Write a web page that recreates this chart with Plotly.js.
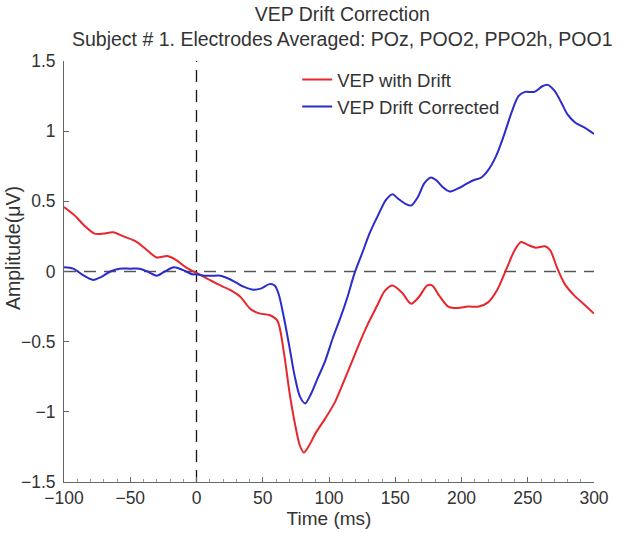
<!DOCTYPE html>
<html>
<head>
<meta charset="utf-8">
<script src="https://cdn.plot.ly/plotly-3.0.1.min.js"></script>
<style>html,body{margin:0;padding:0;background:#fff}#chart{width:627px;height:533px}</style>
</head>
<body>
<div id="chart"></div>
<script>
// Time (ms) samples and amplitudes (µV)
const timeDrift = [-100,-92,-85,-77,-70,-63,-55,-45,-37,-30,-22,-15,-8,0,8,16,25,33,41,48,55,61,66,70,74,78,81,85,90,97,104,110,117,123,129,136,142,148,155,162,168,174,178,183,190,197,205,213,220,227,234,240,245,250,256,263,267,272,278,285,292,300];
const vepDrift = [0.46,0.40,0.33,0.27,0.27,0.28,0.25,0.21,0.15,0.10,0.11,0.08,0.03,-0.01,-0.05,-0.09,-0.13,-0.18,-0.27,-0.30,-0.31,-0.35,-0.58,-0.85,-1.07,-1.24,-1.29,-1.24,-1.15,-1.05,-0.94,-0.81,-0.65,-0.51,-0.38,-0.25,-0.14,-0.10,-0.15,-0.23,-0.18,-0.10,-0.10,-0.17,-0.25,-0.26,-0.25,-0.25,-0.22,-0.13,0.02,0.15,0.21,0.19,0.17,0.18,0.15,0.03,-0.09,-0.17,-0.23,-0.30];

const timeCorr = [-100,-93,-85,-78,-72,-65,-58,-50,-43,-37,-30,-24,-17,-10,-3,0,6,12,18,24,30,36,43,49,55,59,62,66,70,74,78,82,86,91,97,103,109,114,119,125,131,137,143,148,152,158,162,167,172,177,181,186,191,197,203,209,215,220,226,232,238,243,248,255,261,265,270,275,280,286,292,300];
const vepCorr = [0.03,0.02,-0.03,-0.06,-0.04,0.00,0.02,0.02,0.02,0.00,-0.03,0.00,0.03,0.01,-0.02,-0.02,-0.03,-0.03,-0.03,-0.05,-0.08,-0.11,-0.13,-0.12,-0.09,-0.10,-0.16,-0.33,-0.53,-0.74,-0.89,-0.94,-0.88,-0.77,-0.64,-0.47,-0.32,-0.18,-0.02,0.13,0.28,0.40,0.51,0.55,0.52,0.48,0.47,0.53,0.63,0.67,0.65,0.60,0.57,0.59,0.62,0.65,0.67,0.72,0.82,0.97,1.14,1.25,1.28,1.28,1.32,1.33,1.29,1.21,1.12,1.06,1.03,0.98];

const seriesNames = ["VEP with Drift", "VEP Drift Corrected"];
const xTicks = [-100,-50,0,50,100,150,200,250,300];
const yTicks = [-1.5,-1,-0.5,0,0.5,1,1.5];
const yTickText = ['\u22121.5','\u22121','\u22120.5','0','0.5','1','1.5'];

const FONT = '"Liberation Sans", Arial, Helvetica, sans-serif';
const TXT = '#333';

const traces = [
  {x: timeDrift, y: vepDrift, name: seriesNames[0], type: 'scatter', mode: 'lines',
   line: {color: '#e8262c', width: 2, shape: 'spline', smoothing: 0.8}},
  {x: timeCorr, y: vepCorr, name: seriesNames[1], type: 'scatter', mode: 'lines',
   line: {color: '#2b2bcc', width: 2, shape: 'spline', smoothing: 0.8}}
];

const layout = {
  width: 627, height: 533,
  margin: {l: 64, r: 33, t: 61, b: 51},
  paper_bgcolor: '#fff', plot_bgcolor: '#fff',
  font: {family: FONT, size: 17, color: TXT},
  title: {
    text: 'VEP Drift Correction<br>Subject # 1. Electrodes Averaged: POz, POO2, PPO2h, POO1',
    font: {family: FONT, size: 19.5, color: TXT},
    x: 0.525, xanchor: 'center', xref: 'paper',
    y: 1 - 21/533, yanchor: 'middle', yref: 'container'
  },
  showlegend: true,
  legend: {x: 0.44, y: 1.0, xanchor: 'left', yanchor: 'top', bgcolor: 'rgba(0,0,0,0)',
           font: {family: FONT, size: 18.5, color: TXT}, tracegroupgap: 0},
  xaxis: {
    range: [-100, 300], tickmode: 'array', tickvals: xTicks,
    ticks: 'inside', ticklen: 5, tickcolor: '#666',
    minor: {dtick: 10, ticks: 'inside', ticklen: 3, tickcolor: '#999', showgrid: false},
    showline: true, linecolor: '#666', linewidth: 1, mirror: false,
    showgrid: false, zeroline: false,
    tickfont: {family: FONT, size: 17.5, color: TXT},
    title: {text: 'Time (ms)', font: {family: FONT, size: 19, color: TXT}, standoff: 2}
  },
  yaxis: {
    range: [-1.5, 1.5], tickmode: 'array', tickvals: yTicks, ticktext: yTickText,
    ticks: 'inside', ticklen: 5, tickcolor: '#666',
    showline: true, linecolor: '#666', linewidth: 1, mirror: false,
    showgrid: false, zeroline: false, ticklabelstandoff: 4,
    tickfont: {family: FONT, size: 17.5, color: TXT}
  },
  annotations: [
    {text: 'Amplitude(\u03bcV)', xref: 'paper', yref: 'paper',
     x: (13 - 64) / 530, y: (482 - 248) / 421, xanchor: 'center', yanchor: 'middle',
     textangle: -90, showarrow: false, font: {family: FONT, size: 19.5, color: TXT}}
  ],
  shapes: [
    {type: 'line', xref: 'x', yref: 'y', x0: -100, x1: 300, y0: 0, y1: 0,
     line: {color: '#555', width: 1.3, dash: '12px,8px'}, layer: 'below'},
    {type: 'line', xref: 'x', yref: 'paper', x0: 0, x1: 0, y0: 0, y1: 1,
     line: {color: '#111', width: 1.3, dash: '12px,8px'}, layer: 'below'}
  ]
};

Plotly.newPlot('chart', traces, layout, {displayModeBar: false, staticPlot: true});
</script>
</body>
</html>
